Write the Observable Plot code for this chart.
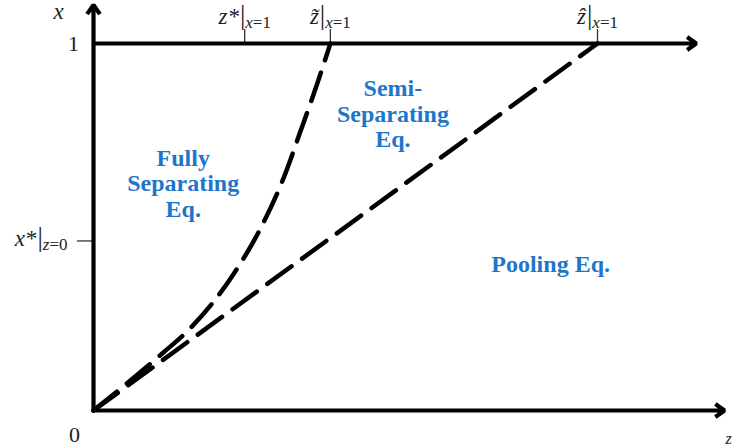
<!DOCTYPE html>
<html>
<head>
<meta charset="utf-8">
<script src="https://cdn.jsdelivr.net/npm/d3@7"></script>
<script src="https://cdn.jsdelivr.net/npm/@observablehq/plot@0.6"></script>
<style>
  html, body { margin: 0; padding: 0; background: #fff; }
  #chart svg { display: block; }
</style>
</head>
<body>
<div id="chart"></div>
<script>
// ---- data (z on horizontal, x on vertical; z-hat at x=1 normalised to 1) ----
const fullySepZ = [0, 0.054, 0.137, 0.192, 0.278, 0.331, 0.375, 0.411, 0.446, 0.470];
const fullySepX = [0, 0.060, 0.156, 0.224, 0.372, 0.495, 0.626, 0.762, 0.899, 1.0];
const poolingZ = [0, 1.0];
const poolingX = [0, 1.0];
const topTickNames = ["z*|x=1", "z\u0303|x=1", "\u1e91|x=1"];
const topTickZ = [0.30, 0.47, 1.0];
const sideTickNames = ["x*|z=0"];
const sideTickX = [0.462];
const regionNames = ["Fully\nSeparating\nEq.", "Semi-\nSeparating\nEq.", "Pooling Eq."];
const regionZ = [0.178, 0.594, 0.907];
const regionX = [0.619, 0.809, 0.40];
const axisZ1 = [0, 0, 0];
const axisX1 = [0, 0, 1];
const axisZ2 = [0, 1.252, 1.196];
const axisX2 = [1.105, 0, 1];

const curve = fullySepZ.map((z, i) => ({z, x: fullySepX[i]}));
const pool = poolingZ.map((z, i) => ({z, x: poolingX[i]}));
const axes = axisZ1.map((z1, i) => ({z1, x1: axisX1[i], z2: axisZ2[i], x2: axisX2[i]}));
const topTicks = topTickNames.map((name, i) => ({name, z: topTickZ[i]}));
const sideTicks = sideTickNames.map((name, i) => ({name, x: sideTickX[i]}));
const regions = regionNames.map((name, i) => ({name, z: regionZ[i], x: regionX[i]}));

const W = 732, H = 447;
const ox = 93, oy = 410, zu = 504, xu = 367;
const serif = "'Liberation Serif', 'DejaVu Serif', serif";
const ink = "#222";

const plot = Plot.plot({
  width: W, height: H, margin: 0,
  x: {domain: [-ox / zu, (W - ox) / zu], axis: null},
  y: {domain: [-(H - oy) / xu, oy / xu], axis: null},
  marks: [
    // top ticks
    Plot.ruleX(topTicks, {x: "z", y1: 1, y2: 1 + 14 / xu, stroke: "#333", strokeWidth: 1.3}),
    // side tick
    Plot.ruleY(sideTicks, {y: "x", x1: -16 / zu, x2: 0, stroke: "#333", strokeWidth: 1.3}),
    // axes with arrowheads
    Plot.arrow(axes, {x1: "z1", y1: "x1", x2: "z2", y2: "x2", stroke: "#000", strokeWidth: 4.2,
      headLength: 4, headAngle: 70, strokeLinecap: "butt"}),
    // pooling boundary
    Plot.line(pool, {x: "z", y: "x", stroke: "#000", strokeWidth: 4.5, strokeDasharray: "30,13"}),
    // fully separating boundary
    Plot.line(curve, {x: "z", y: "x", stroke: "#000", strokeWidth: 4.5, strokeDasharray: "30,13", curve: "monotone-x"}),
    // region labels
    Plot.text(regions, {x: "z", y: "x", text: "name", fill: "#1f76c9", fontFamily: serif,
      fontWeight: "bold", fontSize: 24, lineHeight: 1.06}),
    // top tick labels
    Plot.text(topTicks, {x: "z", y: 1, text: "name", dy: -27, fill: ink, fontFamily: serif, fontSize: 23}),
    // side tick labels
    Plot.text(sideTicks, {x: 0, y: "x", text: "name", dx: -26, dy: -2, textAnchor: "end", fill: ink, fontFamily: serif, fontSize: 23}),
    // axis labels
    Plot.text(["x"], {x: 0, y: 1.105, text: d => d, dx: -35, dy: 7, fill: ink, fontFamily: serif, fontStyle: "italic", fontSize: 23}),
    Plot.text(["1"], {x: 0, y: 1, text: d => d, dx: -20, fill: ink, fontFamily: serif, fontSize: 22}),
    Plot.text(["0"], {x: 0, y: 0, text: d => d, dx: -19, dy: 24, fill: ink, fontFamily: serif, fontSize: 22}),
    Plot.text(["z"], {x: 0, y: 0, text: d => d, dx: 632, dy: 28, textAnchor: "start", fill: ink, fontFamily: serif, fontStyle: "italic", fontSize: 16})
  ]
});

// turn "main|sub" labels into real text with a subscript
d3.select(plot).selectAll("text").each(function () {
  const t = this.textContent;
  if (!t.includes("|") || this.querySelector("tspan")) return;
  const [main, sub] = t.split("|");
  const el = d3.select(this);
  el.text(null);
  el.append("tspan").attr("font-style", "italic").text(main);
  el.append("tspan").attr("font-size", 27).attr("dx", 1).text("|");
  const s = el.append("tspan").attr("font-size", 17).attr("dy", 4);
  s.append("tspan").attr("font-style", "italic").text(sub.charAt(0));
  s.append("tspan").text(sub.slice(1));
});

document.getElementById("chart").appendChild(plot);
</script>
</body>
</html>
